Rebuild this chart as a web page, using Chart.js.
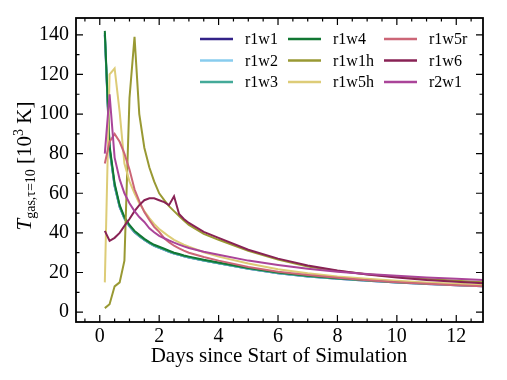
<!DOCTYPE html>
<html>
<head>
<meta charset="utf-8">
<script src="https://cdn.jsdelivr.net/npm/chart.js@4"></script>
<style>
  body { margin: 0; background: #fff; }
  canvas { display: block; }
</style>
</head>
<body>
<canvas id="tempChart" width="507" height="380"></canvas>
<script>
// days since start of the simulation (shared sampling for all runs)
const days = [0.17, 0.33, 0.5, 0.67, 0.83, 1.0, 1.17, 1.33, 1.5, 1.67, 1.83, 2.0, 2.17, 2.33, 2.5,
  2.67, 2.83, 3.0, 3.5, 4, 5, 6, 7, 8, 9, 10, 11, 12, 12.9];

const seriesNames = ['r1w1', 'r1w2', 'r1w3', 'r1w4', 'r1w1h', 'r1w5h', 'r1w5r', 'r1w6', 'r2w1'];
const seriesColors = ['#332288', '#88CCEE', '#44AA99', '#117733', '#999933', '#DDCC77', '#CC6677', '#882255', '#AA4499'];

// gas temperature at tau=10, in 10^3 K
const r1w1 = [140, 82, 63.5, 53, 47.2, 43.3, 40.3, 38.3, 36.4, 34.8, 33.4, 32.4, 31.4, 30.5, 29.6, 28.9, 28.2, 27.6, 26, 24.6, 21.9, 19.6, 18, 16.8, 15.8, 14.9, 14.2, 13.6, 13.1];
const r1w2 = [140.5, 82.5, 63.8, 53.2, 47.3, 43.4, 40.4, 38.4, 36.5, 34.9, 33.5, 32.5, 31.5, 30.5, 29.6, 28.9, 28.2, 27.6, 26, 24.6, 21.9, 19.6, 18, 16.8, 15.8, 14.9, 14.2, 13.6, 13.1];
const r1w3 = [141, 83, 64, 53.3, 47.4, 43.5, 40.5, 38.5, 36.6, 35, 33.6, 32.6, 31.6, 30.6, 29.7, 29, 28.3, 27.7, 26.1, 24.7, 22, 19.7, 18.1, 16.9, 15.9, 15, 14.3, 13.7, 13.2];
const r1w4 = [142, 84, 65, 54, 48, 44, 41, 39, 37, 35.3, 34, 33, 32, 31, 30, 29.3, 28.6, 28, 26.4, 25, 22.3, 20, 18.4, 17.1, 16.1, 15.2, 14.5, 13.9, 13.4];
const r1w1h = [2, 4, 13, 15, 26, 108, 139, 100, 83, 73, 66, 60, 56.5, 53.5, 51, 48.5, 46.2, 44, 39.5, 36.5, 31, 26.5, 23, 20.7, 19.1, 17.8, 16.7, 15.8, 15.1];
const r1w5h = [15, 120, 123, 101, 75, 66, 60, 55, 51, 47.5, 44.5, 42, 40, 38.2, 36.5, 35.2, 34, 33, 30.2, 28, 24.5, 21.6, 19.6, 18, 16.8, 15.8, 15, 14.3, 13.7];
const r1w5r = [75, 86, 90, 86, 80, 72, 62, 56, 50.5, 46.5, 43, 40.5, 37.3, 35.3, 33.5, 32.2, 31, 30, 27.8, 26, 22.8, 20.4, 18.7, 17.3, 16.1, 15.1, 14.3, 13.6, 13.0];
const r1w6 = [41, 36, 37.5, 40, 43.5, 47, 51, 54, 56.5, 57.5, 57.5, 56.5, 55.5, 54, 58.5, 49.5, 47, 45, 40.5, 37.5, 31.5, 27, 23.5, 21, 19, 17.5, 16.2, 15.3, 14.6];
const r2w1 = [80, 110, 78, 67, 60, 55, 51, 48, 45.5, 42.3, 40.3, 38.5, 37.3, 36.2, 35.1, 34.1, 33.2, 32.4, 30.5, 29, 26, 23.8, 21.9, 20.4, 19.2, 18.3, 17.5, 16.8, 16.2];

const seriesValues = [r1w1, r1w2, r1w3, r1w4, r1w1h, r1w5h, r1w5r, r1w6, r2w1];

const xTicks = [0, 2, 4, 6, 8, 10, 12];
const yTicks = [0, 20, 40, 60, 80, 100, 120, 140];

const serif = "'Liberation Serif', 'DejaVu Serif', serif";

// inward ticks on all four sides, box, legend and axis titles
const decorations = {
  id: 'decorations',
  afterDatasetsDraw(chart) {
    const { ctx, chartArea: a, scales: { x, y } } = chart;
    ctx.save();
    ctx.strokeStyle = '#000';
    ctx.lineWidth = 1.2;
    ctx.beginPath();
    for (let v = -0.5; v <= 13; v += 0.5) {
      const px = x.getPixelForValue(v);
      if (px < a.left || px > a.right) continue;
      const len = v % 2 === 0 ? 7 : 3.5;
      ctx.moveTo(px, a.bottom); ctx.lineTo(px, a.bottom - len);
      ctx.moveTo(px, a.top); ctx.lineTo(px, a.top + len);
    }
    for (let v = 0; v <= 140; v += 10) {
      const py = y.getPixelForValue(v);
      const len = v % 20 === 0 ? 7 : 3.5;
      ctx.moveTo(a.left, py); ctx.lineTo(a.left + len, py);
      ctx.moveTo(a.right, py); ctx.lineTo(a.right - len, py);
    }
    ctx.stroke();
    ctx.lineWidth = 1.8;
    ctx.strokeRect(a.left, a.top, a.right - a.left, a.bottom - a.top);

    // legend, three columns
    const colX = [200, 288, 384];
    const rowY = [39, 60.5, 82];
    ctx.font = '16px ' + serif;
    ctx.textBaseline = 'middle';
    ctx.fillStyle = '#000';
    seriesNames.forEach((name, i) => {
      const cx = colX[Math.floor(i / 3)];
      const cy = rowY[i % 3];
      ctx.strokeStyle = seriesColors[i];
      ctx.lineWidth = 2.5;
      ctx.beginPath();
      ctx.moveTo(cx, cy); ctx.lineTo(cx + 33, cy);
      ctx.stroke();
      ctx.fillText(name, cx + 45, cy + 1);
    });
    ctx.restore();
  },
  afterDraw(chart) {
    const { ctx } = chart;
    ctx.save();
    ctx.fillStyle = '#000';
    ctx.textBaseline = 'alphabetic';
    ctx.font = '21px ' + serif;
    ctx.textAlign = 'center';
    ctx.fillText('Days since Start of Simulation', 279, 362);

    // y title with sub/superscripts
    const parts = [
      { t: 'T', f: 'italic 21px ' + serif, dy: 0 },
      { t: 'gas,\u03c4=10', f: '14px ' + serif, dy: 4 },
      { t: ' [10', f: '21px ' + serif, dy: 0 },
      { t: '3', f: '14px ' + serif, dy: -8 },
      { t: ' K]', f: '21px ' + serif, dy: 0 }
    ];
    let total = 0;
    parts.forEach(p => { ctx.font = p.f; p.w = ctx.measureText(p.t).width; total += p.w; });
    ctx.translate(31, 166);
    ctx.rotate(-Math.PI / 2);
    ctx.textAlign = 'left';
    let pos = -total / 2;
    parts.forEach(p => {
      ctx.font = p.f;
      ctx.fillText(p.t, pos, p.dy);
      pos += p.w;
    });
    ctx.restore();
  }
};

new Chart(document.getElementById('tempChart'), {
  type: 'line',
  data: {
    datasets: seriesNames.map((name, i) => ({
      label: name,
      data: days.map((d, j) => ({ x: d, y: seriesValues[i][j] })),
      borderColor: seriesColors[i],
      backgroundColor: seriesColors[i],
      borderWidth: 2,
      fill: false,
      order: seriesNames.length - i
    }))
  },
  options: {
    responsive: false,
    animation: false,
    layout: { padding: { left: 0, right: 24, top: 18, bottom: 0 } },
    elements: { point: { radius: 0 }, line: { tension: 0 } },
    plugins: { legend: { display: false }, tooltip: { enabled: false } },
    scales: {
      x: {
        type: 'linear',
        min: -0.8,
        max: 12.9,
        grid: { display: false },
        border: { display: false },
        ticks: { color: '#000', font: { family: serif, size: 20 }, padding: -5 },
        afterBuildTicks: s => { s.ticks = xTicks.map(v => ({ value: v })); },
        afterFit: s => { s.height = 58; }
      },
      y: {
        min: -5,
        max: 148.5,
        grid: { display: false },
        border: { display: false },
        ticks: { color: '#000', font: { family: serif, size: 20 }, padding: -1 },
        afterBuildTicks: s => { s.ticks = yTicks.map(v => ({ value: v })); },
        afterFit: s => { s.width = 76; }
      }
    }
  },
  plugins: [decorations]
});
</script>
</body>
</html>
